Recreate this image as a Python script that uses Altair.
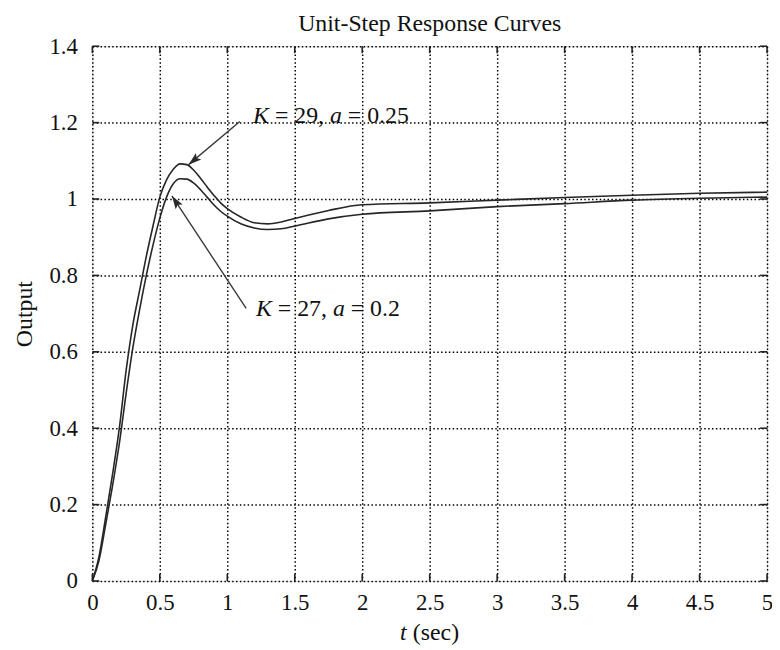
import altair as alt
import pandas as pd

# ---- data ----
t_vals = [0, 0.05, 0.1, 0.15, 0.2, 0.25, 0.3, 0.35, 0.4, 0.45,
          0.5, 0.55, 0.6, 0.65, 0.7, 0.75, 0.8, 0.85, 0.9, 0.95,
          1.0, 1.1, 1.2, 1.3, 1.4, 1.5, 1.75, 2.0,
          2.5, 3.0, 3.5, 4.0, 4.5, 5.0]
out_k29 = [0, 0.065, 0.17, 0.28, 0.40, 0.55, 0.67, 0.76, 0.85, 0.93,
           1.005, 1.05, 1.078, 1.092, 1.09, 1.076, 1.055, 1.032, 1.01, 0.99,
           0.975, 0.953, 0.938, 0.935, 0.940, 0.949, 0.970, 0.985,
           0.990, 0.997, 1.004, 1.010, 1.015, 1.018]
out_k27 = [0, 0.055, 0.15, 0.25, 0.36, 0.49, 0.61, 0.71, 0.80, 0.88,
           0.95, 1.005, 1.04, 1.053, 1.052, 1.042, 1.025, 1.005, 0.985, 0.968,
           0.955, 0.935, 0.924, 0.920, 0.922, 0.929, 0.948, 0.960,
           0.969, 0.980, 0.988, 0.997, 1.002, 1.005]
series_names = ["K = 29, a = 0.25", "K = 27, a = 0.2"]

x_ticks = [0, 0.5, 1, 1.5, 2, 2.5, 3, 3.5, 4, 4.5, 5]
y_ticks = [0, 0.2, 0.4, 0.6, 0.8, 1.0, 1.2, 1.4]

# annotation anchors (data units): arrow tail, arrow head, label start
arrow_tail_t = [1.093, 1.140]
arrow_tail_y = [1.203, 0.714]
arrow_head_t = [0.713, 0.590]
arrow_head_y = [1.090, 1.008]
arrow_angle = [230, 326.5]
label_t = [1.191, 1.213]
label_y = [1.200, 0.693]
label_k = ["29,", "27,"]
label_a = ["0.25", "0.2"]

TITLE = "Unit-Step Response Curves"
FONT = "Liberation Serif"
W, H = 680, 539

rows = []
for name, vals in zip(series_names, [out_k29, out_k27]):
    for t, v in zip(t_vals, vals):
        rows.append({"t": t, "out": v, "series": name})
curves_df = pd.DataFrame(rows)

xs = alt.Scale(domain=[0, 5], nice=False, zero=False)
ys = alt.Scale(domain=[0, 1.4], nice=False, zero=False)

grid_style = dict(gridColor="#000", gridDash=[1.5, 2.4], gridWidth=1.5)
base_x_axis = alt.Axis(values=x_ticks, format="~g", grid=True, ticks=False, domain=False,
                       labelFont=FONT, labelFontSize=23, labelColor="#111", labelPadding=11,
                       title=None, labelFlush=False, **grid_style)
base_y_axis = alt.Axis(values=y_ticks, format="~g", grid=True, ticks=False, domain=False,
                       labelFont=FONT, labelFontSize=23, labelColor="#111", labelPadding=15,
                       title="Output", titleFont=FONT, titleFontSize=24, titleFontWeight="normal",
                       titleColor="#111", titlePadding=13, labelFlush=False, **grid_style)

curves = alt.Chart(curves_df).mark_line(color="#262626", strokeWidth=1.6, interpolate="monotone").encode(
    x=alt.X("t:Q", scale=xs, axis=base_x_axis),
    y=alt.Y("out:Q", scale=ys, axis=base_y_axis),
    detail="series:N",
)

xt_df = pd.DataFrame({"v": x_ticks})
yt_df = pd.DataFrame({"v": y_ticks})
tick_style = dict(color="#222", strokeWidth=1.6)
xtick_bot = alt.Chart(xt_df).mark_rule(**tick_style).encode(
    x=alt.X("v:Q", scale=xs), y=alt.value(H), y2=alt.value(H - 7))
xtick_top = alt.Chart(xt_df).mark_rule(**tick_style).encode(
    x=alt.X("v:Q", scale=xs), y=alt.value(0), y2=alt.value(7))
ytick_left = alt.Chart(yt_df).mark_rule(**tick_style).encode(
    y=alt.Y("v:Q", scale=ys), x=alt.value(0), x2=alt.value(7))
ytick_right = alt.Chart(yt_df).mark_rule(**tick_style).encode(
    y=alt.Y("v:Q", scale=ys), x=alt.value(W), x2=alt.value(W - 7))

ann_df = pd.DataFrame({
    "t0": arrow_tail_t, "y0": arrow_tail_y,
    "t1": arrow_head_t, "y1": arrow_head_y,
    "ang": arrow_angle,
    "lt": label_t, "ly": label_y,
    "k": label_k, "a": label_a,
    "K": ["K", "K"], "A": ["a", "a"], "eq": ["=", "="],
})

shafts = alt.Chart(ann_df).mark_rule(color="#3a3a3a", strokeWidth=1.4).encode(
    x=alt.X("t0:Q", scale=xs), y=alt.Y("y0:Q", scale=ys),
    x2="t1:Q", y2="y1:Q")
heads = alt.Chart(ann_df).mark_point(
    shape="M0,0L0.32,1L0,0.8L-0.32,1Z", filled=True, size=700, color="#2a2a2a", opacity=1
).encode(
    x=alt.X("t1:Q", scale=xs), y=alt.Y("y1:Q", scale=ys), angle=alt.Angle("ang:Q", scale=None))

def piece(field, dx, italic):
    return alt.Chart(ann_df).mark_text(
        align="left", baseline="alphabetic", dx=dx, font=FONT, fontSize=24,
        fontStyle="italic" if italic else "normal", color="#111"
    ).encode(x=alt.X("lt:Q", scale=xs), y=alt.Y("ly:Q", scale=ys), text=f"{field}:N")

labels = [piece("K", 0, True), piece("eq", 22, False), piece("k", 41.5, False),
          piece("A", 77.5, True), piece("eq", 95.5, False), piece("a", 115, False)]

xtitle_t = alt.Chart(pd.DataFrame({"s": ["t"]})).mark_text(
    align="left", baseline="alphabetic", font=FONT, fontSize=24, fontStyle="italic", color="#111"
).encode(x=alt.value(310), y=alt.value(598), text="s:N")
xtitle_rest = alt.Chart(pd.DataFrame({"s": ["(sec)"]})).mark_text(
    align="left", baseline="alphabetic", font=FONT, fontSize=24, color="#111"
).encode(x=alt.value(323), y=alt.value(598), text="s:N")

title_mark = alt.Chart(pd.DataFrame({"s": [TITLE]})).mark_text(
    align="center", baseline="alphabetic", font=FONT, fontSize=24, color="#111"
).encode(x=alt.value(W / 2), y=alt.value(-15), text="s:N")

chart = alt.layer(
    curves, xtick_bot, xtick_top, ytick_left, ytick_right,
    shafts, heads, *labels, xtitle_t, xtitle_rest, title_mark
).properties(
    width=W, height=H,
    autosize=alt.AutoSizeParams(type="none"),
    padding={"left": 85, "top": 36, "right": 5, "bottom": 66},
).configure_view(stroke="#8a8a8a", strokeWidth=1.8).configure(background="white")

chart.save("out.html", embed_options={"renderer": "svg", "actions": False})
